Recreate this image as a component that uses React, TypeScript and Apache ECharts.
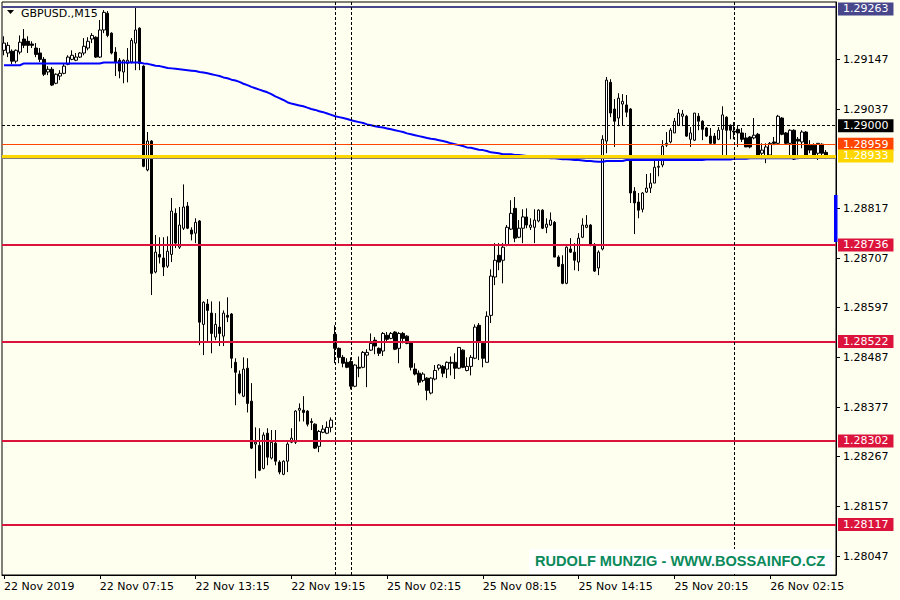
import React, { useEffect, useRef } from "react";
import * as echarts from "echarts";

// GBPUSD M15 candles: [open, close, low, high]
const candles: number[][] = [
  [1.29167,1.29183,1.29156,1.29198],[1.29161,1.29178,1.29152,1.29185],[1.29165,1.29143,1.29136,1.29169],[1.29143,1.29167,1.29138,1.29169],
  [1.29163,1.29185,1.29158,1.29200],[1.29192,1.29178,1.29172,1.29214],[1.29187,1.29178,1.29161,1.29198],[1.29181,1.29178,1.29172,1.29187],
  [1.29172,1.29158,1.29152,1.29183],[1.29161,1.29147,1.29141,1.29172],[1.29147,1.29114,1.29110,1.29152],[1.29119,1.29125,1.29112,1.29132],
  [1.29125,1.29090,1.29088,1.29130],[1.29094,1.29114,1.29092,1.29116],[1.29110,1.29116,1.29101,1.29123],[1.29116,1.29132,1.29114,1.29138],
  [1.29136,1.29152,1.29134,1.29156],[1.29147,1.29156,1.29145,1.29167],[1.29145,1.29152,1.29143,1.29161],[1.29152,1.29161,1.29150,1.29163],
  [1.29161,1.29176,1.29156,1.29194],[1.29172,1.29187,1.29167,1.29196],[1.29192,1.29200,1.29183,1.29205],[1.29196,1.29152,1.29150,1.29198],
  [1.29152,1.29212,1.29150,1.29234],[1.29212,1.29251,1.29205,1.29256],[1.29249,1.29200,1.29196,1.29254],[1.29205,1.29161,1.29158,1.29207],
  [1.29163,1.29141,1.29110,1.29174],[1.29145,1.29121,1.29105,1.29150],[1.29119,1.29145,1.29094,1.29147],[1.29138,1.29145,1.29096,1.29172],
  [1.29141,1.29189,1.29138,1.29194],[1.29183,1.29212,1.29123,1.29263],[1.29216,1.29138,1.29123,1.29218],[1.29132,1.28910,1.28908,1.29134],
  [1.28902,1.28966,1.28899,1.28986],[1.28966,1.28673,1.28625,1.28968],[1.28676,1.28720,1.28673,1.28758],[1.28715,1.28709,1.28695,1.28753],
  [1.28707,1.28687,1.28667,1.28753],[1.28689,1.28722,1.28685,1.28755],[1.28715,1.28811,1.28698,1.28840],[1.28806,1.28740,1.28729,1.28817],
  [1.28731,1.28780,1.28727,1.28820],[1.28773,1.28820,1.28769,1.28870],[1.28822,1.28773,1.28771,1.28831],[1.28769,1.28760,1.28746,1.28775],
  [1.28762,1.28786,1.28740,1.28795],[1.28789,1.28565,1.28514,1.28791],[1.28560,1.28609,1.28492,1.28611],[1.28605,1.28591,1.28520,1.28616],
  [1.28585,1.28540,1.28496,1.28611],[1.28532,1.28560,1.28525,1.28585],[1.28554,1.28540,1.28512,1.28611],[1.28534,1.28585,1.28512,1.28591],
  [1.28580,1.28576,1.28565,1.28620],[1.28583,1.28485,1.28463,1.28585],[1.28476,1.28454,1.28381,1.28485],[1.28450,1.28408,1.28405,1.28458],
  [1.28401,1.28461,1.28399,1.28487],[1.28463,1.28385,1.28365,1.28485],[1.28390,1.28286,1.28284,1.28430],[1.28295,1.28299,1.28219,1.28332],
  [1.28292,1.28237,1.28235,1.28330],[1.28241,1.28315,1.28239,1.28321],[1.28319,1.28266,1.28248,1.28330],[1.28264,1.28299,1.28261,1.28326],
  [1.28297,1.28257,1.28248,1.28326],[1.28255,1.28233,1.28228,1.28259],[1.28228,1.28257,1.28226,1.28259],[1.28257,1.28295,1.28233,1.28299],
  [1.28299,1.28308,1.28297,1.28330],[1.28299,1.28368,1.28295,1.28370],[1.28370,1.28374,1.28345,1.28385],[1.28370,1.28365,1.28345,1.28401],
  [1.28368,1.28339,1.28334,1.28370],[1.28345,1.28343,1.28326,1.28352],[1.28339,1.28286,1.28284,1.28341],[1.28290,1.28323,1.28277,1.28326],
  [1.28321,1.28328,1.28319,1.28337],[1.28319,1.28332,1.28317,1.28345],[1.28332,1.28348,1.28321,1.28354],[1.28538,1.28507,1.28474,1.28558],
  [1.28507,1.28487,1.28474,1.28509],[1.28487,1.28474,1.28465,1.28492],[1.28476,1.28465,1.28463,1.28485],[1.28478,1.28423,1.28416,1.28487],
  [1.28423,1.28470,1.28421,1.28472],[1.28465,1.28463,1.28443,1.28489],[1.28465,1.28498,1.28463,1.28501],[1.28492,1.28498,1.28421,1.28505],
  [1.28503,1.28518,1.28501,1.28540],[1.28525,1.28512,1.28494,1.28532],[1.28507,1.28496,1.28490,1.28509],[1.28501,1.28540,1.28490,1.28543],
  [1.28536,1.28527,1.28523,1.28543],[1.28529,1.28540,1.28527,1.28543],[1.28543,1.28505,1.28503,1.28545],[1.28507,1.28540,1.28474,1.28543],
  [1.28540,1.28529,1.28518,1.28543],[1.28534,1.28518,1.28516,1.28536],[1.28520,1.28465,1.28458,1.28523],[1.28461,1.28450,1.28447,1.28474],
  [1.28452,1.28432,1.28425,1.28458],[1.28436,1.28450,1.28432,1.28454],[1.28441,1.28414,1.28392,1.28443],[1.28408,1.28441,1.28405,1.28443],
  [1.28439,1.28458,1.28436,1.28470],[1.28463,1.28470,1.28458,1.28472],[1.28467,1.28452,1.28443,1.28470],[1.28461,1.28476,1.28441,1.28478],
  [1.28476,1.28474,1.28447,1.28489],[1.28476,1.28463,1.28439,1.28496],[1.28463,1.28509,1.28461,1.28509],[1.28503,1.28465,1.28463,1.28505],
  [1.28458,1.28467,1.28456,1.28487],[1.28467,1.28487,1.28447,1.28492],[1.28485,1.28554,1.28483,1.28560],[1.28558,1.28520,1.28481,1.28563],
  [1.28518,1.28485,1.28465,1.28523],[1.28476,1.28578,1.28476,1.28589],[1.28580,1.28667,1.28563,1.28682],[1.28665,1.28702,1.28647,1.28740],
  [1.28713,1.28698,1.28680,1.28740],[1.28702,1.28731,1.28651,1.28740],[1.28735,1.28775,1.28733,1.28780],[1.28771,1.28806,1.28769,1.28835],
  [1.28817,1.28751,1.28742,1.28842],[1.28753,1.28773,1.28751,1.28791],[1.28773,1.28798,1.28740,1.28815],[1.28798,1.28780,1.28773,1.28817],
  [1.28775,1.28780,1.28769,1.28795],[1.28775,1.28791,1.28740,1.28815],[1.28789,1.28813,1.28786,1.28815],[1.28813,1.28773,1.28771,1.28815],
  [1.28775,1.28782,1.28762,1.28795],[1.28780,1.28791,1.28778,1.28808],[1.28786,1.28709,1.28709,1.28789],[1.28709,1.28689,1.28687,1.28713],
  [1.28693,1.28651,1.28649,1.28713],[1.28651,1.28731,1.28649,1.28733],[1.28727,1.28720,1.28718,1.28751],[1.28720,1.28702,1.28680,1.28740],
  [1.28698,1.28751,1.28678,1.28762],[1.28753,1.28780,1.28751,1.28795],[1.28775,1.28780,1.28773,1.28802],[1.28780,1.28738,1.28733,1.28782],
  [1.28735,1.28678,1.28676,1.28740],[1.28685,1.28720,1.28669,1.28724],[1.28727,1.28970,1.28724,1.28979],[1.28966,1.29101,1.28939,1.29108],
  [1.29096,1.29028,1.29019,1.29103],[1.29037,1.29010,1.28953,1.29059],[1.29017,1.29061,1.28999,1.29072],[1.29048,1.29054,1.29001,1.29070],
  [1.29046,1.29030,1.29019,1.29068],[1.29037,1.28851,1.28829,1.29039],[1.28855,1.28829,1.28760,1.28864],[1.28831,1.28813,1.28795,1.28851],
  [1.28815,1.28851,1.28808,1.28853],[1.28853,1.28862,1.28851,1.28893],[1.28862,1.28873,1.28851,1.28895],[1.28873,1.28908,1.28873,1.28933],
  [1.28908,1.28910,1.28888,1.28930],[1.28913,1.28955,1.28908,1.28968],[1.28957,1.28961,1.28953,1.28986],[1.28964,1.28990,1.28961,1.28995],
  [1.28984,1.29010,1.28984,1.29017],[1.29001,1.29028,1.28999,1.29037],[1.29021,1.29026,1.28999,1.29035],[1.29021,1.28977,1.28975,1.29024],
  [1.28970,1.28984,1.28953,1.28997],[1.28968,1.29028,1.28966,1.29028],[1.29021,1.29010,1.28990,1.29028],[1.29010,1.28992,1.28968,1.29012],
  [1.28995,1.28977,1.28975,1.28997],[1.28977,1.28961,1.28959,1.28995],[1.28977,1.28961,1.28959,1.28984],[1.28970,1.28990,1.28968,1.28997],
  [1.28992,1.29024,1.28930,1.29043],[1.29019,1.28990,1.28935,1.29021],[1.29001,1.28990,1.28970,1.29003],[1.28988,1.28986,1.28970,1.29008],
  [1.28992,1.28984,1.28953,1.29001],[1.28984,1.28970,1.28964,1.28995],[1.28973,1.28953,1.28953,1.28984],[1.28975,1.28953,1.28950,1.28977],
  [1.28973,1.28979,1.28970,1.29017],[1.28981,1.28935,1.28933,1.28984],[1.28939,1.28946,1.28926,1.28961],[1.28933,1.28953,1.28917,1.28961],
  [1.28935,1.28961,1.28933,1.28964],[1.28964,1.28961,1.28957,1.28975],[1.28961,1.29021,1.28959,1.29024],[1.29017,1.28981,1.28979,1.29019],
  [1.28984,1.28961,1.28959,1.28986],[1.28961,1.28990,1.28933,1.28992],[1.28990,1.28926,1.28924,1.28992],[1.28970,1.28966,1.28935,1.28975],
  [1.28964,1.28986,1.28950,1.28990],[1.28986,1.28930,1.28928,1.28988],[1.28957,1.28946,1.28939,1.28968],[1.28957,1.28935,1.28933,1.28961],
  [1.28939,1.28961,1.28924,1.28961],[1.28959,1.28939,1.28935,1.28961],[1.28941,1.28933,1.28926,1.28946]
];

// moving average (blue)
const maValues: number[] = [
  1.29134,1.29134,1.29134,1.29134,1.29134,1.29138,1.29138,1.29138,1.29138,1.29138,
  1.29138,1.29138,1.29138,1.29138,1.29138,1.29138,1.29138,1.29138,1.29138,1.29138,
  1.29138,1.29138,1.29138,1.29138,1.29138,1.29140,1.29140,1.29140,1.29140,1.29140,
  1.29140,1.29140,1.29140,1.29140,1.29140,1.29138,1.29137,1.29135,1.29133,1.29132,
  1.29130,1.29128,1.29127,1.29126,1.29125,1.29124,1.29123,1.29122,1.29121,1.29119,
  1.29118,1.29116,1.29114,1.29112,1.29110,1.29107,1.29105,1.29102,1.29100,1.29097,
  1.29093,1.29090,1.29086,1.29083,1.29080,1.29077,1.29074,1.29070,1.29065,1.29061,
  1.29057,1.29052,1.29049,1.29047,1.29045,1.29043,1.29040,1.29037,1.29035,1.29032,
  1.29030,1.29027,1.29024,1.29021,1.29019,1.29017,1.29015,1.29012,1.29010,1.29008,
  1.29006,1.29003,1.29001,1.28999,1.28997,1.28996,1.28994,1.28992,1.28990,1.28988,
  1.28986,1.28983,1.28981,1.28979,1.28977,1.28975,1.28973,1.28971,1.28970,1.28968,
  1.28966,1.28964,1.28961,1.28959,1.28957,1.28955,1.28952,1.28951,1.28949,1.28947,
  1.28946,1.28944,1.28941,1.28940,1.28939,1.28937,1.28937,1.28937,1.28935,1.28935,
  1.28934,1.28933,1.28932,1.28931,1.28930,1.28930,1.28929,1.28928,1.28928,1.28927,
  1.28926,1.28926,1.28925,1.28924,1.28924,1.28923,1.28922,1.28922,1.28921,1.28920,
  1.28920,1.28922,1.28922,1.28922,1.28922,1.28922,1.28924,1.28924,1.28924,1.28924,
  1.28924,1.28924,1.28924,1.28924,1.28924,1.28924,1.28924,1.28924,1.28924,1.28924,
  1.28924,1.28924,1.28924,1.28924,1.28924,1.28924,1.28925,1.28925,1.28925,1.28925,
  1.28925,1.28925,1.28925,1.28927,1.28927,1.28927,1.28927,1.28928,1.28928,1.28928,
  1.28928,1.28928,1.28928,1.28928,1.28928,1.28928,1.28928,1.28928,1.28928,1.28928,
  1.28930,1.28930,1.28930,1.28930,1.28930,1.28930,1.28930
];

const tickIndex = [0, 24, 48, 72, 96, 120, 144, 168, 192];
const tickLabels = [
  "22 Nov 2019", "22 Nov 07:15", "22 Nov 13:15", "22 Nov 19:15", "25 Nov 02:15",
  "25 Nov 08:15", "25 Nov 14:15", "25 Nov 20:15", "26 Nov 02:15"
];
const priceTicks = [1.28047, 1.28157, 1.28267, 1.28377, 1.28487, 1.28597, 1.28707, 1.28817, 1.29037, 1.29147];

const levelValues = [1.29263, 1.29000, 1.28959, 1.28933, 1.28736, 1.28522, 1.28302, 1.28117];
const levelColors = ["#48478C", "#000000", "#FF4500", "#FFD700", "#DC143C", "#DC143C", "#DC143C", "#DC143C"];
const levelWidths = [2, 1, 1, 3, 2, 2, 2, 2];
const levelDashed = [false, true, false, false, false, false, false, false];
const bidLine = 1.28928;
const sessionLines = [83, 87, 183];

const slotCount = candles.length + 2;
const categories = Array.from({ length: slotCount }, (_, i) => String(i));

export default function App() {
  const ref = useRef<HTMLDivElement>(null);
  useEffect(() => {
    if (!ref.current) return;
    const chart = echarts.init(ref.current, null, { renderer: "svg" });
    const font = "DejaVu Sans";
    const isTick = (i: number) => tickIndex.indexOf(i) >= 0;

    const levelData: any[] = levelValues.map((v, k) => ({
      name: "L" + k,
      yAxis: v,
      lineStyle: { color: levelColors[k], width: levelWidths[k], type: levelDashed[k] ? [3, 2] : "solid" },
      label: {
        show: true,
        position: "end",
        distance: 2,
        formatter: v.toFixed(5),
        color: "#ffffff",
        backgroundColor: levelColors[k],
        padding: [1, 5, 0, 5],
        fontSize: 11,
        lineHeight: 12,
        fontFamily: font,
        offset: k === 0 ? [0, 2] : [0, 0],
      },
    }));

    const option: any = {
      animation: false,
      backgroundColor: "#FFFFF0",
      grid: { left: 2, right: 64, top: 2, bottom: 25, show: true, borderColor: "#000", borderWidth: 1, backgroundColor: "transparent" },
      xAxis: {
        type: "category",
        data: categories,
        boundaryGap: true,
        axisLine: { show: true, lineStyle: { color: "#000", width: 1 } },
        axisTick: { show: true, alignWithLabel: true, length: 4, interval: (i: number) => isTick(i), lineStyle: { color: "#000" } },
        axisLabel: {
          interval: (i: number) => isTick(i),
          formatter: (_v: string, i: number) => (isTick(i) ? tickLabels[tickIndex.indexOf(i)] : ""),
          align: "left",
          color: "#000",
          fontSize: 11,
          fontFamily: font,
          margin: 6,
        },
        splitLine: { show: false },
      },
      yAxis: {
        type: "value",
        position: "right",
        min: 1.28005,
        max: 1.29274,
        axisLine: { show: true, lineStyle: { color: "#000" } },
        axisTick: { show: true, length: 4, customValues: priceTicks, lineStyle: { color: "#000" } },
        axisLabel: {
          customValues: priceTicks,
          formatter: (v: number) => v.toFixed(5),
          color: "#000",
          fontSize: 11,
          fontFamily: font,
          margin: 7,
        },
        splitLine: { show: false },
      },
      series: [
        {
          type: "candlestick",
          data: candles,
          barWidth: 3,
          z: 2,
          silent: true,
          itemStyle: { color: "#ffffff", color0: "#000000", borderColor: "#000000", borderColor0: "#000000", borderWidth: 1 },
        },
        {
          type: "line",
          data: maValues,
          symbol: "none",
          silent: true,
          z: 4,
          lineStyle: { color: "#0000FF", width: 2 },
          markLine: {
            symbol: ["none", "none"],
            silent: true,
            animation: false,
            precision: 5,
            data: [
              { name: "bid", yAxis: bidLine, lineStyle: { color: "#808080", width: 1, type: "solid" }, label: { show: false } },
              ...levelData,
              ...sessionLines.map((s) => ({
                name: "S" + s,
                xAxis: s,
                lineStyle: { color: "#000", width: 1, type: [3, 2] },
                label: { show: false },
              })),
            ],
          },
        },
      ],
      graphic: [
        { type: "polygon", shape: { points: [[7, 10], [14, 10], [10.5, 14]] }, style: { fill: "#000" }, z: 100 },
        { type: "text", x: 21, y: 13, style: { text: "GBPUSD.,M15", fill: "#000", fontSize: 11, fontFamily: font, verticalAlign: "middle" }, z: 100 },
        { type: "rect", shape: { x: 834, y: 195, width: 3.5, height: 47 }, style: { fill: "#0000FF" }, z: 100 },
        { type: "rect", shape: { x: 529, y: 549, width: 304, height: 25 }, style: { fill: "#FFFFFF" }, z: 100 },
        {
          type: "text", x: 535, y: 561,
          style: { text: "RUDOLF MUNZIG - WWW.BOSSAINFO.CZ", fill: "#0A8A5A", fontSize: 14.6, fontWeight: "bold", fontFamily: "Liberation Sans", verticalAlign: "middle" },
          z: 101,
        },
      ],
    };
    chart.setOption(option);
    return () => chart.dispose();
  }, []);
  return (
    <div style={{ position: "fixed", left: 0, top: 0, width: 900, height: 600, background: "#FFFFF0" }}>
      <div ref={ref} style={{ width: 900, height: 600 }} />
    </div>
  );
}
